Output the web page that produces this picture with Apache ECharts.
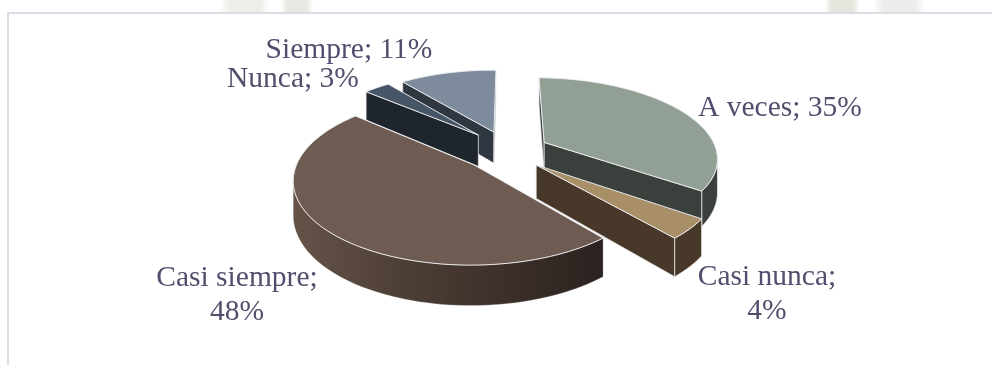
<!DOCTYPE html>
<html>
<head>
<meta charset="utf-8">
<style>html,body{margin:0;padding:0;background:#fff}#chart{width:992px;height:365px}</style>
<script src="https://cdn.jsdelivr.net/npm/echarts@6/dist/echarts.min.js"></script>
</head>
<body>
<div id="chart"></div>
<script>
// Survey answers, in the order they run clockwise from twelve o'clock
const categories = ['A veces', 'Casi nunca', 'Casi siempre', 'Nunca', 'Siempre'];
const percents = [35, 4, 48, 3, 11];

// Appearance of each wedge
const topColors = ['#919f94', '#a98f68', '#6e5c52', '#465666', '#7d8b9d'];
const wallColors = ['#3a413c', '#47382a', '#4a3b33', '#1f252c', '#2f3740'];
const rimStops = [null, null, ['#2a2320', '#3d302a', '#4f4037', '#655348'], null, null];
// Where each wedge is pulled out to, in disc radii (x right, y away from the viewer)
const pullOut = [[0.32, 0.20], [0.26, -0.085], [-0.09, -0.085], [-0.07, 0.30], [0.024, 0.34]];
// Label anchors and wrapping
const labelAnchors = [[780, 108], [767, 294], [237, 295], [293, 79], [349, 50]];
const labelWraps = [false, true, true, false, false];

// Perspective view of the disc, with the first wedge starting just past twelve o'clock
const view = { cx: 490, cy: 158, rx: 175, ry: 80.5, depth: 33, persp: 0.17, startDeg: 1 };

function project(x, y, drop) {
  const s = 1 / (1 + view.persp * y);
  return [view.cx + view.rx * x * s, view.cy - view.ry * y * s + (drop ? view.depth * s : 0)];
}

const total = percents.reduce((a, b) => a + b, 0);
const EDGE = 'rgba(236,236,238,0.95)';

function renderWedge(params, api) {
  const i = api.value(0);
  const before = percents.slice(0, i).reduce((a, b) => a + b, 0);
  const start = view.startDeg * Math.PI / 180;
  const from = start + before / total * 2 * Math.PI;
  const to = start + (before + api.value(1)) / total * 2 * Math.PI;
  const [ox, oy] = pullOut[i];
  const base = 100 * (2 - oy);
  const rimXY = [];
  const steps = Math.max(3, Math.ceil((to - from) / (Math.PI / 90)));
  for (let k = 0; k <= steps; k++) {
    const t = from + (to - from) * k / steps;
    rimXY.push([ox + Math.sin(t), oy + Math.cos(t)]);
  }
  const apex = project(ox, oy, false);
  const apexLow = project(ox, oy, true);
  const rim = rimXY.map(p => project(p[0], p[1], false));
  const rimLow = rimXY.map(p => project(p[0], p[1], true));
  const mid = rim[Math.floor(rim.length / 2)];
  const children = [];

  // A cut face shows when the top lies on the far side of its edge from the drop
  const wall = (idx) => {
    const b = rim[idx];
    const ex = b[0] - apex[0], ey = b[1] - apex[1];
    const sideTop = ex * (mid[1] - apex[1]) - ey * (mid[0] - apex[0]);
    const sideDrop = ex * (apexLow[1] - apex[1]) - ey * (apexLow[0] - apex[0]);
    if (sideTop * sideDrop >= 0) return;
    children.push({
      type: 'polygon',
      z2: base + 1,
      shape: { points: [apex, b, rimLow[idx], apexLow] },
      style: { fill: wallColors[i], stroke: EDGE, lineWidth: 0.8 }
    });
  };
  wall(0);
  wall(rim.length - 1);

  // Outer skin: only the stretch running right to left faces the viewer
  const upper = [], lower = [];
  for (let k = 0; k < rim.length; k++) {
    const facing = (k + 1 < rim.length && rim[k + 1][0] < rim[k][0]) || (k > 0 && rim[k][0] < rim[k - 1][0]);
    if (facing) { upper.push(rim[k]); lower.push(rimLow[k]); }
  }
  if (upper.length > 1) {
    const stops = rimStops[i];
    const fill = stops ? {
      type: 'linear', x: 1, y: 0, x2: 0, y2: 0,
      colorStops: stops.map((c, n) => ({ offset: n / (stops.length - 1), color: c }))
    } : wallColors[i];
    children.push({
      type: 'polygon',
      z2: base + 2,
      shape: { points: upper.concat(lower.reverse()) },
      style: { fill: fill, stroke: stops ? 'rgba(236,236,238,0.35)' : EDGE, lineWidth: 0.8 }
    });
  }

  children.push({
    type: 'polygon',
    z2: base + 3,
    shape: { points: [apex].concat(rim) },
    style: { fill: topColors[i], stroke: EDGE, lineWidth: 1, lineJoin: 'round' }
  });

  const sep = labelWraps[i] ? ';\n' : '; ';
  children.push({
    type: 'text',
    z2: 1000,
    style: {
      text: categories[i] + sep + api.value(1) + '%',
      x: labelAnchors[i][0],
      y: labelAnchors[i][1],
      align: 'center',
      verticalAlign: 'middle',
      font: '29.5px "Liberation Serif", "Times New Roman", serif',
      lineHeight: 34,
      fill: '#50506e'
    }
  });

  return { type: 'group', children: children };
}

// Faint scraps of the page's backdrop showing above the chart frame, soft at the sides
const backdrop = (x, w, color) => ({
  type: 'rect',
  silent: true,
  shape: { x: x, y: 0, width: w, height: 12 },
  style: {
    fill: {
      type: 'linear', x: 0, y: 0, x2: 1, y2: 0,
      colorStops: [
        { offset: 0, color: '#ffffff' },
        { offset: 0.2, color: color },
        { offset: 0.8, color: color },
        { offset: 1, color: '#ffffff' }
      ]
    }
  }
});

const chart = echarts.init(document.getElementById('chart'), null, { renderer: 'canvas' });
chart.setOption({
  animation: false,
  backgroundColor: '#ffffff',
  graphic: [
    backdrop(220, 50, '#eceee9'),
    backdrop(281, 32, '#e6e9e1'),
    backdrop(825, 35, '#e3e6dd'),
    backdrop(873, 52, '#ebedea'),
    {
      type: 'rect',
      silent: true,
      shape: { x: 8, y: 13, width: 1100, height: 500 },
      style: { fill: 'none', stroke: '#dcdce6', lineWidth: 2 }
    }
  ],
  series: [{
    type: 'custom',
    coordinateSystem: 'none',
    renderItem: renderWedge,
    data: percents.map((v, i) => [i, v]),
    silent: true
  }]
});
</script>
</body>
</html>
